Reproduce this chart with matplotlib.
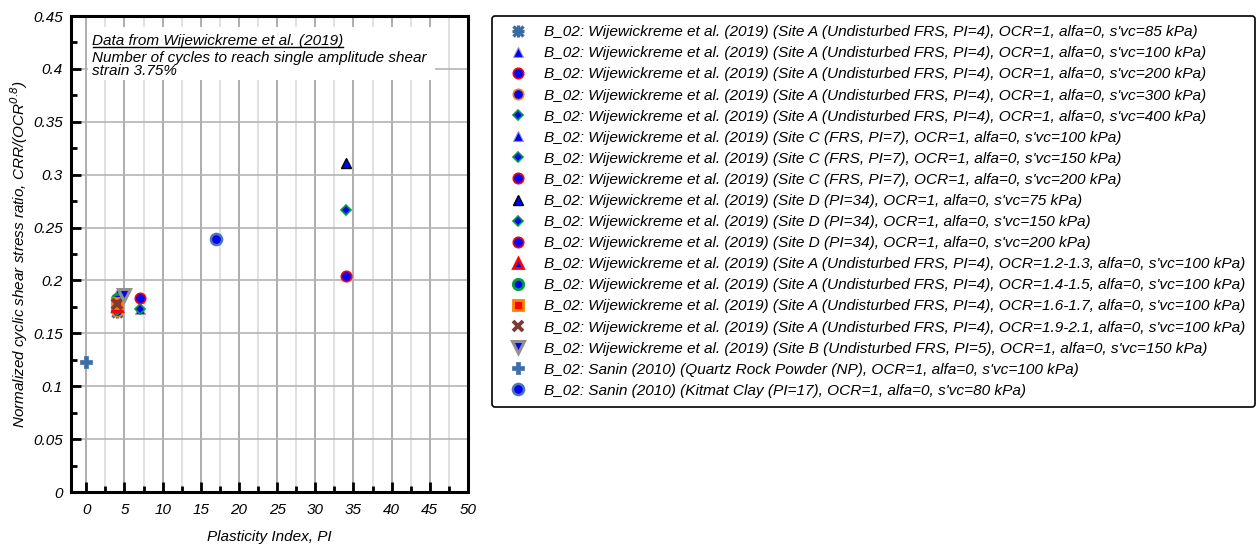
import matplotlib
matplotlib.use("Agg")
import matplotlib.pyplot as plt
from matplotlib.lines import Line2D
from matplotlib.patches import Rectangle
from matplotlib.legend_handler import HandlerTuple
from matplotlib.ticker import MultipleLocator, FuncFormatter

plt.rcParams['font.family'] = ['Liberation Sans', 'DejaVu Sans']
plt.rcParams['font.style'] = 'italic'

# ---- data: plasticity index and normalized CRR for each series ----
labels = [
    "B_02: Wijewickreme et al. (2019) (Site A (Undisturbed FRS, PI=4), OCR=1, alfa=0, s'vc=85 kPa)",
    "B_02: Wijewickreme et al. (2019) (Site A (Undisturbed FRS, PI=4), OCR=1, alfa=0, s'vc=100 kPa)",
    "B_02: Wijewickreme et al. (2019) (Site A (Undisturbed FRS, PI=4), OCR=1, alfa=0, s'vc=200 kPa)",
    "B_02: Wijewickreme et al. (2019) (Site A (Undisturbed FRS, PI=4), OCR=1, alfa=0, s'vc=300 kPa)",
    "B_02: Wijewickreme et al. (2019) (Site A (Undisturbed FRS, PI=4), OCR=1, alfa=0, s'vc=400 kPa)",
    "B_02: Wijewickreme et al. (2019) (Site C (FRS, PI=7), OCR=1, alfa=0, s'vc=100 kPa)",
    "B_02: Wijewickreme et al. (2019) (Site C (FRS, PI=7), OCR=1, alfa=0, s'vc=150 kPa)",
    "B_02: Wijewickreme et al. (2019) (Site C (FRS, PI=7), OCR=1, alfa=0, s'vc=200 kPa)",
    "B_02: Wijewickreme et al. (2019) (Site D (PI=34), OCR=1, alfa=0, s'vc=75 kPa)",
    "B_02: Wijewickreme et al. (2019) (Site D (PI=34), OCR=1, alfa=0, s'vc=150 kPa)",
    "B_02: Wijewickreme et al. (2019) (Site D (PI=34), OCR=1, alfa=0, s'vc=200 kPa)",
    "B_02: Wijewickreme et al. (2019) (Site A (Undisturbed FRS, PI=4), OCR=1.2-1.3, alfa=0, s'vc=100 kPa)",
    "B_02: Wijewickreme et al. (2019) (Site A (Undisturbed FRS, PI=4), OCR=1.4-1.5, alfa=0, s'vc=100 kPa)",
    "B_02: Wijewickreme et al. (2019) (Site A (Undisturbed FRS, PI=4), OCR=1.6-1.7, alfa=0, s'vc=100 kPa)",
    "B_02: Wijewickreme et al. (2019) (Site A (Undisturbed FRS, PI=4), OCR=1.9-2.1, alfa=0, s'vc=100 kPa)",
    "B_02: Wijewickreme et al. (2019) (Site B (Undisturbed FRS, PI=5), OCR=1, alfa=0, s'vc=150 kPa)",
    "B_02: Sanin (2010) (Quartz Rock Powder (NP), OCR=1, alfa=0, s'vc=100 kPa)",
    "B_02: Sanin (2010) (Kitmat Clay (PI=17), OCR=1, alfa=0, s'vc=80 kPa)",
]
pi_values = [4, 4, 4, 4, 4, 7, 7, 7, 34, 34, 34, 4, 4, 4, 4, 5, 0, 17]
crr_values = [0.170, 0.187, 0.174, 0.171, 0.172, 0.173, 0.173, 0.183,
              0.311, 0.267, 0.204, 0.176, 0.182, 0.179, 0.178, 0.186, 0.123, 0.239]

# ---- marker styles per series (a list of layers per series) ----
styles = [
    [dict(marker='+', color='#3a6aa3', ms=9, mew=2.4),
     dict(marker='x', color='#3a6aa3', ms=7.5, mew=2.4)],
    [dict(marker='^', mfc='#0000ff', mec='#9a9ab8', ms=7.5, mew=0.8)],
    [dict(marker='o', mfc='#0000ff', mec='#ff0000', ms=7.5, mew=1.2)],
    [dict(marker='o', mfc='#0000ff', mec='#ff7f00', ms=7.5, mew=1.2)],
    [dict(marker='D', mfc='#0000ff', mec='#00a040', ms=5.5, mew=1.2)],
    [dict(marker='^', mfc='#0000ff', mec='#9a9ab8', ms=7.5, mew=0.8)],
    [dict(marker='D', mfc='#0000ff', mec='#00a040', ms=5.5, mew=1.2)],
    [dict(marker='o', mfc='#0000ff', mec='#ff0000', ms=7.5, mew=1.2)],
    [dict(marker='^', mfc='#0000ff', mec='#000000', ms=7.5, mew=1.0)],
    [dict(marker='D', mfc='#0000ff', mec='#00a040', ms=5.5, mew=1.2)],
    [dict(marker='o', mfc='#0000ff', mec='#ff0000', ms=7.5, mew=1.2)],
    [dict(marker='^', mfc='#0000ff', mec='#ff0000', ms=7.5, mew=2.0)],
    [dict(marker='o', mfc='#0000ff', mec='#00a040', ms=7.5, mew=2.0)],
    [dict(marker='s', mfc='#ff0000', mec='#ff7f00', ms=7.0, mew=2.0)],
    [dict(marker='x', color='#7b3b38', ms=7.5, mew=2.8)],
    [dict(marker='v', mfc='#0000ff', mec='#909090', ms=8.0, mew=2.2)],
    [dict(marker='P', color='#3d6ea8', mec='#3d6ea8', ms=9, mew=0.5)],
    [dict(marker='o', mfc='#0000ff', mec='#4a78b0', ms=8, mew=1.8)],
]

fig = plt.figure(figsize=(12.56, 5.46), dpi=100)
ax = fig.add_axes([71 / 1256, 1 - 492 / 546, 397 / 1256, 476 / 546])

handles = []
for lab, x, y, layers in zip(labels, pi_values, crr_values, styles):
    parts = []
    for st in layers:
        st = dict(st)
        h, = ax.plot([x], [y], linestyle='none',
                     marker=st.pop('marker'), markersize=st.pop('ms'),
                     markeredgewidth=st.pop('mew'), zorder=3, clip_on=False, **st)
        parts.append(h)
    handles.append(tuple(parts) if len(parts) > 1 else parts[0])

ax.set_xlim(-2, 50)
ax.set_ylim(0, 0.45)
ax.xaxis.set_major_locator(MultipleLocator(5))
ax.xaxis.set_minor_locator(MultipleLocator(2.5))
ax.yaxis.set_major_locator(MultipleLocator(0.05))
ax.yaxis.set_minor_locator(MultipleLocator(0.025))
ax.yaxis.set_major_formatter(FuncFormatter(lambda v, p: f"{v:g}"))
ax.xaxis.set_major_formatter(FuncFormatter(lambda v, p: f"{v:g}"))

ax.grid(which='major', axis='x', color='#a0a0a0', lw=1.2)
ax.grid(which='minor', axis='x', color='#dcdcdc', lw=1.2)
ax.grid(which='major', axis='y', color='#b4b4b4', lw=1.2)
ax.set_axisbelow(True)

for s in ax.spines.values():
    s.set_linewidth(2.2)
ax.tick_params(which='major', direction='in', length=7, width=2, labelsize=11)
ax.tick_params(axis='x', which='major', pad=8)
ax.tick_params(axis='y', which='major', pad=6)
ax.tick_params(which='minor', direction='in', length=4, width=2)
ax.tick_params(axis='x', which='both', top=False)
ax.tick_params(axis='y', which='both', right=False)
for t in ax.get_xticklabels() + ax.get_yticklabels():
    t.set_style('italic')

ax.set_xlabel('Plasticity Index, PI', fontsize=11, style='italic', labelpad=9)
ax.set_ylabel(r'Normalized cyclic shear stress ratio, CRR/(OCR$^{0.8}$)',
              fontsize=11, style='italic')
ax.yaxis.set_label_coords(-0.103, 0.5)

# annotation panel in the upper part of the axes
ax.add_patch(Rectangle((0.043, 0.866), 0.875, 0.11, transform=ax.transAxes,
                       facecolor='white', edgecolor='none', zorder=2))
title_txt = ax.text(0.053, (492 - 41) / 476, 'Data from Wijewickreme et al. (2019)',
                    transform=ax.transAxes, fontsize=11, style='italic',
                    va='center', ha='left', zorder=4)
ax.text(0.053, (492 - 58) / 476, 'Number of cycles to reach single amplitude shear',
        transform=ax.transAxes, fontsize=11, style='italic',
        va='center', ha='left', zorder=4)
ax.text(0.053, (492 - 71) / 476, 'strain 3.75%',
        transform=ax.transAxes, fontsize=11, style='italic',
        va='center', ha='left', zorder=4)

fig.canvas.draw()
bb = title_txt.get_window_extent()
inv = fig.transFigure.inverted()
(x0, y0), (x1, _) = inv.transform([(bb.x0 + 1, bb.y0), (bb.x1, bb.y0)])
fig.add_artist(Line2D([x0, x1], [y0 + 0.002, y0 + 0.002], color='black', lw=1.0,
                      transform=fig.transFigure))

leg = fig.legend(handles=handles, labels=labels, loc='upper left',
                 bbox_to_anchor=(492 / 1256, 1 - 16 / 546),
                 handler_map={tuple: HandlerTuple(ndivide=1, pad=0)},
                 frameon=True, fancybox=True,
                 labelspacing=0.46, handlelength=2.2, handletextpad=0.6,
                 borderpad=0.6, borderaxespad=0, edgecolor='black',
                 prop={'style': 'italic', 'size': 11.1})
leg.get_frame().set_linewidth(1.2)
leg.get_frame().set_alpha(1)

fig.savefig('out.png', dpi=100)
